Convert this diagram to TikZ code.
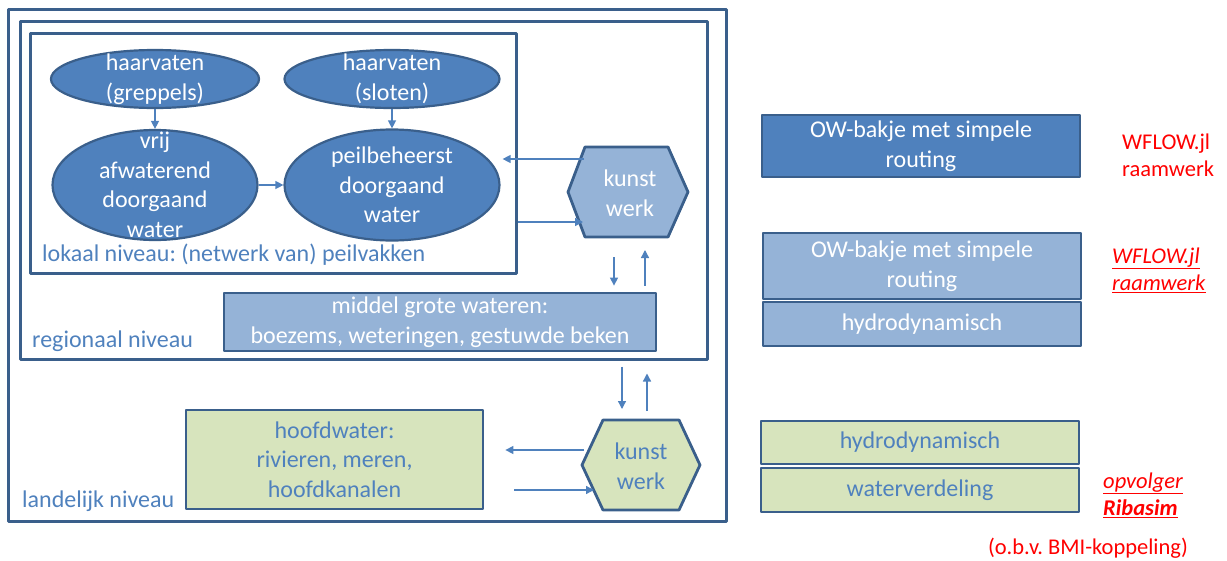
\documentclass[tikz,border=0pt]{standalone}
\usepackage{fontspec}
\setmainfont{Carlito}
\usetikzlibrary{calc,shapes.geometric,arrows.meta}
\frenchspacing

\definecolor{donkerblauw}{HTML}{4F81BD}
\definecolor{lichtblauw}{HTML}{95B3D7}
\definecolor{groen}{HTML}{D7E4BD}
\definecolor{rand}{HTML}{3A5F8B}

\begin{document}
\begin{tikzpicture}[x=1pt,y=-1pt,line join=round,font=\fontsize{24}{29.5}\selectfont]
	\tikzstyle{kader}=[draw=rand,line width=3pt,inner sep=0pt];
	\tikzstyle{bol}=[ellipse,draw=rand,line width=2.2pt,fill=donkerblauw,inner sep=0pt];
	\tikzstyle{wit}=[text=white,align=center];
	\tikzstyle{blauw}=[text=donkerblauw,align=center];
	\tikzstyle{blok}=[draw=rand,line width=2.8pt,align=center,inner sep=0pt];
	\tikzstyle{rechts}=[blok,minimum width=318pt,font=\fontsize{24}{29.5}\selectfont];
	\tikzstyle{kunst}=[draw=rand,line width=2.8pt];
	\tikzstyle{pijl}=[donkerblauw,line width=1.3pt,-{Triangle[length=8pt,width=8pt]}];
	\tikzstyle{niveau}=[anchor=west,text=donkerblauw,inner sep=0pt];
	\tikzstyle{rood}=[text=red,align=left,anchor=west,inner sep=0pt,font=\fontsize{22.5}{27}\selectfont];
	\useasboundingbox (0,0) rectangle (1227,560);
	%% Frames
	\node[kader,minimum width=718pt,minimum height=512pt] (land) at (367,265) {};
	\node[kader,minimum width=687pt,minimum height=338pt] (reg) at (363.5,190) {};
	\node[kader,minimum width=486pt,minimum height=240pt] (lok) at (273,153) {};
	\node[niveau] (landlabel) at (22,501) {landelijk niveau};
	\node[niveau] (reglabel) at (32,341) {regionaal niveau};
	\node[niveau] (loklabel) at (42,255) {lokaal niveau: (netwerk van) peilvakken};
	%% Peilvakken
	\node[bol,minimum width=208pt,minimum height=58pt,
		label={[wit]center:haarvaten\\(greppels)}] (grep) at (155,79) {};
	\node[bol,minimum width=215pt,minimum height=58pt,
		label={[wit]center:haarvaten\\(sloten)}] (slot) at (392,79) {};
	\node[bol,minimum width=205pt,minimum height=110pt,
		label={[wit]center:vrij\\afwaterend\\doorgaand\\water}] (vrij) at (155,185) {};
	\node[bol,minimum width=215pt,minimum height=111pt,
		label={[wit]center:peilbeheerst\\doorgaand\\water}] (peil) at (392,185) {};
	\draw[pijl] (grep.south) -- (vrij.north);
	\draw[pijl] (slot.south) -- (peil.north);
	\draw[pijl] (vrij.east) -- (peil.west);
	%% Kunstwerken
	\draw[kunst,fill=lichtblauw] (628,192) ++(-60,0) -- ++(17,-45) -- ++(83,0)
		-- ++(20,45) -- ++(-20,45) -- ++(-83,0) -- cycle;
	\node[wit] (kw1) at (630,193) {kunst\\werk};
	\draw[kunst,fill=groen] (641,465) ++(-59,0) -- ++(21,-45) -- ++(76,0)
		-- ++(21,45) -- ++(-21,45) -- ++(-76,0) -- cycle;
	\node[blauw] (kw2) at (641,466) {kunst\\werk};
	%% Wateren
	\node[blok,fill=lichtblauw,text=white,minimum width=432pt,minimum height=58pt]
		(mid) at (440,322) {middel grote wateren:\\boezems, weteringen, gestuwde beken};
	\node[blok,fill=groen,text=donkerblauw,minimum width=297pt,minimum height=99pt]
		(hoofd) at (334.5,459.5) {hoofdwater:\\rivieren, meren,\\hoofdkanalen};
	%% Connectors
	\coordinate (kw1a) at ($(kw1)+(-46,-34)$);
	\coordinate (kw1b) at ($(kw1)+(-47,29)$);
	\coordinate (kw1c) at ($(kw1)+(-16,64)$);
	\coordinate (kw1d) at ($(kw1)+(15,57)$);
	\draw[pijl] (kw1a) -- ($(kw1a -| peil.east)+(2,0)$);
	\draw[pijl] (kw1b -| lok.east) -- (kw1b);
	\draw[pijl,shorten >=6pt] (kw1c) -- (kw1c |- mid.north);
	\draw[pijl,shorten <=6pt] (kw1d |- mid.north) -- (kw1d);
	\coordinate (kw2a) at ($(kw2)+(-19,-57)$);
	\coordinate (kw2b) at ($(kw2)+(6,-55)$);
	\coordinate (kw2c) at ($(kw2)+(-57,-16)$);
	\coordinate (kw2d) at ($(kw2)+(-47,24)$);
	\draw[pijl,shorten <=6pt] (kw2a |- reg.south) -- (kw2a);
	\draw[pijl,shorten >=13pt] (kw2b) -- (kw2b |- reg.south);
	\draw[pijl] (kw2c) -- ($(kw2c -| hoofd.east)+(21,0)$);
	\draw[pijl] ($(kw2d -| hoofd.east)+(30,0)$) -- (kw2d);
	%% Rechts
	\node[rechts,fill=donkerblauw,text=white,minimum height=62pt] (owa) at (921,146)
		{OW-bakje met simpele\\routing};
	\node[rechts,fill=lichtblauw,text=white,minimum height=66pt] (owb) at (922,266)
		{OW-bakje met simpele\\routing};
	\node[rechts,fill=lichtblauw,text=white,minimum height=44pt] (hydb) at (922,324)
		{hydrodynamisch};
	\node[rechts,fill=groen,text=donkerblauw,minimum height=43pt] (hydg) at (920,442.5)
		{hydrodynamisch};
	\node[rechts,fill=groen,text=donkerblauw,minimum height=44pt] (verd) at (920,490)
		{waterverdeling};
	\node[rood] (wflowa) at (1122,155) {WFLOW.jl\\raamwerk};
	\node[rood] (wflowb) at (1112,270) {\underline{\textit{WFLOW.jl}}\\\underline{\textit{raamwerk}}};
	\node[rood] (ribasim) at (1103,495) {\underline{\textit{opvolger}}\\\underline{\textbf{\textit{Ribasim}}}};
	\node[rood,anchor=center] (bmi) at (1088,548) {(o.b.v. BMI-koppeling)};
\end{tikzpicture}
\end{document}
